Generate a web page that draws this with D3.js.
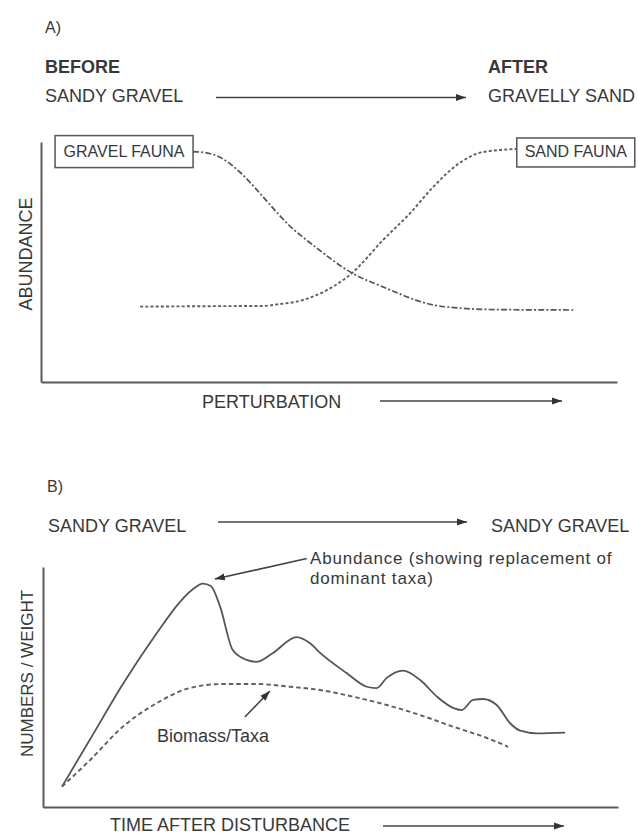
<!DOCTYPE html>
<html>
<head>
<meta charset="utf-8">
<script src="https://cdn.jsdelivr.net/npm/d3@7"></script>
<style>
  body { margin: 0; background: #fff; }
  svg { display: block; }
  text { font-family: "Liberation Sans", Arial, Helvetica, sans-serif; fill: #383838; }
</style>
</head>
<body>
<svg id="chart" width="638" height="835"></svg>
<script>
// ---- Panel A: change of fauna along a perturbation gradient ----
const perturbGravelX = [26.4, 29.3, 31.9, 34.5, 37.2, 39.8, 43.2, 47.2, 54.0, 59.4, 68.1, 72.7, 78.0, 92.4];
const gravelFauna    = [96.0, 95.2, 92.5, 87.5, 80.8, 73.75, 65.0, 57.1, 45.4, 39.6, 32.1, 30.8, 30.2, 30.0];
const perturbSandX   = [17.2, 30.0, 38.5, 41.5, 44.4, 47.9, 54.0, 59.4, 64.1, 68.1, 72.7, 76.7, 82.6];
const sandFauna      = [31.4, 31.6, 31.7, 32.5, 33.5, 36.3, 45.4, 59.2, 70.4, 81.3, 91.3, 95.8, 97.1];
const panelALabels   = ["A)", "BEFORE", "AFTER", "SANDY GRAVEL", "GRAVELLY SAND", "ABUNDANCE", "PERTURBATION"];
const faunaLabels    = ["GRAVEL FAUNA", "SAND FAUNA"];

// ---- Panel B: recovery after disturbance ----
const timeAbundX  = [3.3, 8.17, 13.9, 19.8, 23.8, 26.1, 27.8, 29.2, 30.8, 33.0, 35.4, 37.2, 40.0, 44.1, 46.4, 48.2,
                     52.8, 56.3, 58.0, 59.8, 62.6, 65.6, 68.5, 71.3, 72.8, 74.8, 76.5, 78.9, 81.2, 83.0, 85.9, 90.8];
const abundance   = [8.5, 28.1, 51.25, 72.5, 85.4, 90.8, 93.1, 92.1, 83.5, 65.4, 61.3, 60.5, 64.2, 70.8, 68.3, 64.2,
                     55.8, 50.1, 49.5, 53.8, 56.8, 52.9, 46.0, 41.3, 40.4, 44.6, 45.0, 42.5, 35.0, 31.8, 30.7, 31.0];
const timeBioX    = [3.3, 8.2, 13.9, 19.8, 25.6, 31.3, 37.2, 43.0, 48.2, 53.9, 59.8, 65.6, 71.3, 77.2, 80.9];
const biomassTaxa = [8.5, 19.6, 33.5, 43.3, 49.6, 51.25, 51.25, 50.1, 48.75, 46.0, 42.5, 38.3, 33.5, 28.75, 25.1];
const panelBLabels = ["B)", "SANDY GRAVEL", "SANDY GRAVEL", "NUMBERS / WEIGHT", "TIME AFTER DISTURBANCE"];
const noteLabels   = ["Abundance (showing replacement of", "dominant taxa)", "Biomass/Taxa"];

const svg = d3.select("#chart");
const ink = "#555";

// arrowhead marker
svg.append("defs").append("marker")
  .attr("id", "head")
  .attr("markerUnits", "userSpaceOnUse")
  .attr("markerWidth", 11).attr("markerHeight", 8)
  .attr("refX", 10).attr("refY", 4)
  .attr("orient", "auto")
  .append("path").attr("d", "M0,0.5 L10,4 L0,7.5 Z").attr("fill", "#333");

function arrow(x1, y1, x2, y2, w) {
  svg.append("line")
    .attr("x1", x1).attr("y1", y1).attr("x2", x2).attr("y2", y2)
    .attr("stroke", "#444").attr("stroke-width", w || 1.6)
    .attr("marker-end", "url(#head)");
}
function label(txt, x, y, size, weight) {
  return svg.append("text").attr("x", x).attr("y", y)
    .attr("font-size", size).attr("font-weight", weight || "normal").text(txt);
}
function bareAxis(g, axis) {
  g.call(axis.ticks(0).tickSize(0).tickSizeOuter(0));
  g.select(".domain").attr("stroke", "#5a5a5a").attr("stroke-width", 2);
  g.selectAll(".tick").remove();
}

// ================= Panel A =================
const xA = d3.scaleLinear().domain([0, 100]).range([41, 617]);
const yA = d3.scaleLinear().domain([0, 100]).range([382, 142]);

label(panelALabels[0], 45, 33, 16);
label(panelALabels[1], 45, 72.5, 18, "bold");
label(panelALabels[2], 488, 72.5, 18, "bold");
label(panelALabels[3], 45, 101.5, 18);
label(panelALabels[4], 488, 101.5, 18);
arrow(216, 97.5, 466, 97.5, 1.7);

bareAxis(svg.append("g").attr("transform", `translate(0,${yA(0)})`), d3.axisBottom(xA));
bareAxis(svg.append("g").attr("transform", `translate(${xA(0)},0)`), d3.axisLeft(yA));

svg.append("text")
  .attr("transform", `translate(32,254) rotate(-90)`)
  .attr("text-anchor", "middle").attr("font-size", 18).text(panelALabels[5]);
label(panelALabels[6], 202, 407.5, 18);
arrow(380, 401, 562, 401, 1.7);

const lineA = (xs, ys) => d3.line()
  .x((d, i) => xA(xs[i])).y(d => yA(d))
  .curve(d3.curveMonotoneX)(ys);

svg.append("path").attr("d", lineA(perturbGravelX, gravelFauna))
  .attr("fill", "none").attr("stroke", ink).attr("stroke-width", 1.7)
  .attr("stroke-dasharray", "6 2.2 2 2.2");
svg.append("path").attr("d", lineA(perturbSandX, sandFauna))
  .attr("fill", "none").attr("stroke", "#5f5f5f").attr("stroke-width", 1.9)
  .attr("stroke-dasharray", "3 2.2");

// boxed fauna labels at the curve ends
const gx = xA(perturbGravelX[0]), gy = yA(gravelFauna[0]);
svg.append("rect").attr("x", gx - 138).attr("y", gy - 16).attr("width", 138).attr("height", 32)
  .attr("fill", "#fff").attr("stroke", ink).attr("stroke-width", 1.5);
svg.append("text").attr("x", gx - 69).attr("y", gy + 5.5).attr("text-anchor", "middle")
  .attr("font-size", 16).text(faunaLabels[0]);

const last = sandFauna.length - 1;
const sx = xA(perturbSandX[last]), sy = yA(sandFauna[last]);
svg.append("rect").attr("x", sx).attr("y", sy - 11).attr("width", 118).attr("height", 29)
  .attr("fill", "#fff").attr("stroke", ink).attr("stroke-width", 1.5);
svg.append("text").attr("x", sx + 59).attr("y", sy + 8).attr("text-anchor", "middle")
  .attr("font-size", 16).text(faunaLabels[1]);

// ================= Panel B =================
const xB = d3.scaleLinear().domain([0, 100]).range([43, 618]);
const yB = d3.scaleLinear().domain([0, 100]).range([807, 567]);

label(panelBLabels[0], 47, 492, 16);
label(panelBLabels[1], 48, 532, 18);
label(panelBLabels[2], 491, 531.5, 18);
arrow(218, 522, 467, 522, 1.7);

bareAxis(svg.append("g").attr("transform", `translate(0,${yB(0)})`), d3.axisBottom(xB));
bareAxis(svg.append("g").attr("transform", `translate(${xB(0)},0)`), d3.axisLeft(yB));

svg.append("text")
  .attr("transform", `translate(33,673.5) rotate(-90)`)
  .attr("text-anchor", "middle").attr("font-size", 17).text(panelBLabels[3]);
label(panelBLabels[4], 110, 831, 18);
arrow(383, 826, 564, 826, 1.7);

const lineB = (xs, ys) => d3.line()
  .x((d, i) => xB(xs[i])).y(d => yB(d))
  .curve(d3.curveMonotoneX)(ys);

svg.append("path").attr("d", lineB(timeAbundX, abundance))
  .attr("fill", "none").attr("stroke", ink).attr("stroke-width", 1.8);
svg.append("path").attr("d", lineB(timeBioX, biomassTaxa))
  .attr("fill", "none").attr("stroke", "#5f5f5f").attr("stroke-width", 1.9)
  .attr("stroke-dasharray", "4.5 3");

// annotation: abundance peak
const pk = abundance.indexOf(d3.max(abundance));
const px = xB(timeAbundX[pk]), py = yB(abundance[pk]);
arrow(px + 104, py - 25, px + 12, py - 4.5, 1.6);
label(noteLabels[0], 310, 564, 17).attr("letter-spacing", 0.8);
label(noteLabels[1], 310, 583.5, 17).attr("letter-spacing", 0.8);

// annotation: biomass/taxa plateau
const bx = xB(timeBioX[6]), by = yB(biomassTaxa[6]);
arrow(bx - 12, by + 33, bx + 13, by + 7, 1.6);
label(noteLabels[2], 157, 741.5, 18);
</script>
</body>
</html>
